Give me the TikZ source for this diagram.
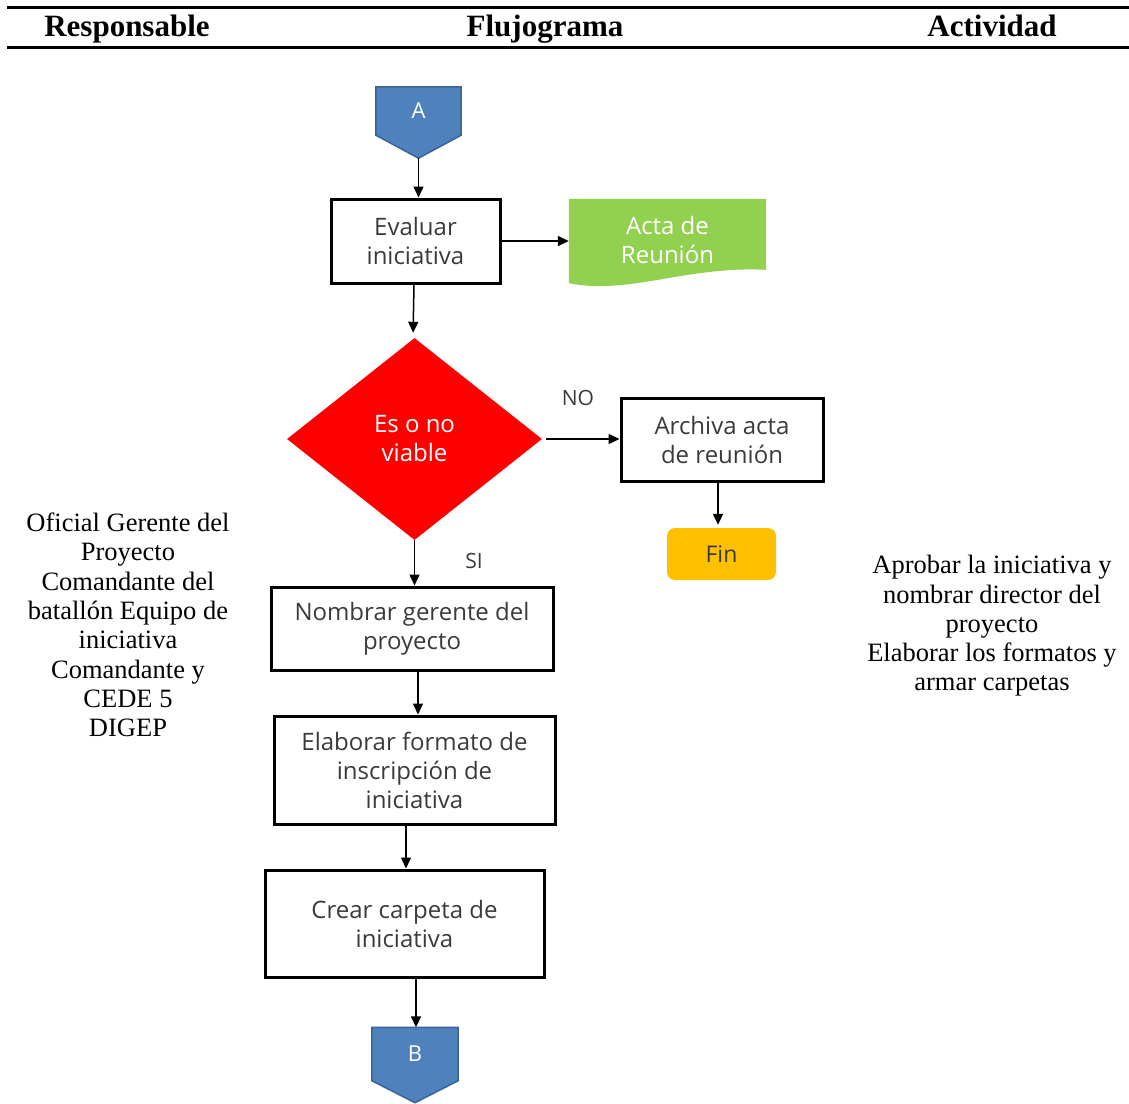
\documentclass[tikz,border=0pt]{standalone}
\usepackage{fontspec}
\setmainfont{Liberation Serif}
\newfontfamily\boxfont{Open Sans}
\usetikzlibrary{arrows.meta,shapes.geometric,calc}
\definecolor{connblue}{HTML}{4F81BD}
\definecolor{connedge}{HTML}{3A6496}
\definecolor{docgreen}{HTML}{92D050}
\definecolor{endyellow}{HTML}{FFC000}
\definecolor{boxtext}{HTML}{3A3A3A}
\begin{document}
\begin{tikzpicture}[x=1pt,y=-1pt,
  header/.style={anchor=base,font=\bfseries\fontsize{31}{34}\selectfont},
  sidetext/.style={align=center,font=\fontsize{26.5}{29.3}\selectfont},
  stepbox/.style={draw,line width=3pt,align=center,inner sep=0pt,text=boxtext,
    font=\boxfont\fontsize{24}{29}\selectfont},
  whitetext/.style={text=white,align=center,font=\boxfont\fontsize{24}{29}\selectfont},
  conn/.style={inner sep=0pt,text=white,font=\boxfont\fontsize{22}{25}\selectfont},
  lbl/.style={text=boxtext,font=\boxfont\fontsize{21}{24}\selectfont},
  arr/.style={line width=1.5pt,-{Triangle[length=11pt,width=10pt]}}]
\useasboundingbox (0,0) rectangle (1129,1103);

% table header
\draw[line width=3pt] (7,7) -- (1129,7);
\draw[line width=3pt] (7,47) -- (1129,47);
\node[header] (hresp) at (127,36) {Responsable};
\node[header] (hflujo) at (545,36) {Flujograma};
\node[header] (hact) at (992,36) {Actividad};

% side columns
\node[sidetext] (resp) at (128,625) {Oficial Gerente del\\Proyecto\\Comandante del\\batallón Equipo de\\iniciativa\\Comandante y\\CEDE 5\\DIGEP};
\node[sidetext] (act) at (992,626) {Aprobar la iniciativa y\\nombrar director del\\proyecto\\Elaborar los formatos y\\armar carpetas};

% off-page connector A
\node[conn,minimum width=85pt,minimum height=48pt] (A) at (418.5,111) {};
\fill[connblue,draw=connedge,line width=1.5pt] (A.north west) -- (A.north east) -- (A.south east)
  -- ($(A.south)+(0,23)$) -- (A.south west) -- cycle;
\node[conn] at (A) {A};
\coordinate (Atip) at ($(A.south)+(0,23)$);

% process boxes
\node[stepbox,minimum width=169pt,minimum height=84pt] (eval) at (415.5,241) {Evaluar\\iniciativa};

\node[whitetext,minimum width=197pt,minimum height=84pt,inner sep=0pt] (acta) at (667.5,241) {};
\fill[docgreen] (acta.north west) -- (acta.north east) -- ($(acta.north east)+(0,71)$)
  .. controls ($(acta.north east)+(-80,67)$) and ($(acta.south west)+(60,12)$) .. (acta.south west) -- cycle;
\node[whitetext] at ([yshift=1.5pt]acta.center) {Acta de\\Reunión};

\node[diamond,fill=red,inner sep=0pt,minimum width=255pt,minimum height=202pt,whitetext] (dec) at (414.5,439) {Es o no\\viable};

\node[stepbox,minimum width=202pt,minimum height=83pt] (arch) at (722,439.5) {Archiva acta\\de reunión};
\node[fill=endyellow,rounded corners=8pt,minimum width=109pt,minimum height=52pt,inner sep=0pt,
  text=boxtext,font=\boxfont\fontsize{23}{25}\selectfont] (fin) at (721.5,554) {Fin};

\node[stepbox,minimum width=282pt,minimum height=83pt] (nomb) at (412,628.5) {Nombrar gerente del\\proyecto};
\node[stepbox,minimum width=281pt,minimum height=108pt] (elab) at (414.5,770) {Elaborar formato de\\inscripción de\\iniciativa};
\node[stepbox,minimum width=279pt,minimum height=107pt] (crear) at (404.5,923.5) {Crear carpeta de\\iniciativa};

% off-page connector B
\node[conn,minimum width=86pt,minimum height=53pt] (B) at (415,1054) {};
\fill[connblue,draw=connedge,line width=1.5pt] (B.north west) -- (B.north east) -- (B.south east)
  -- ($(B.south)+(0,22)$) -- (B.south west) -- cycle;
\node[conn] at (B) {B};

% branch labels
\node[lbl] (no) at (578,398) {NO};
\node[lbl] (si) at (474,561) {SI};

% connectors
\draw[arr] (Atip) -- (eval.north -| Atip);
\draw[arr] (eval.east) -- (acta.west |- eval.east);
\draw[arr,shorten >=5pt] ([xshift=-1.5pt]eval.south) -- ([xshift=-1.5pt]dec.north);
\draw[arr,shorten <=4pt] (dec.east) -- (arch.west |- dec.east);
\draw[arr,shorten >=3pt] ([xshift=-4pt]arch.south) -- ([xshift=-4pt]arch.south |- fin.north);
\draw[arr] (dec.south) -- (dec.south |- nomb.north);
\draw[arr] ([xshift=6pt]nomb.south) -- ([xshift=6pt]nomb.south |- elab.north);
\draw[arr] ([xshift=-8.5pt]elab.south) -- ([xshift=-8.5pt]elab.south |- crear.north);
\draw[arr] ([xshift=11.5pt]crear.south) -- ([xshift=11.5pt]crear.south |- B.north);
\end{tikzpicture}
\end{document}
